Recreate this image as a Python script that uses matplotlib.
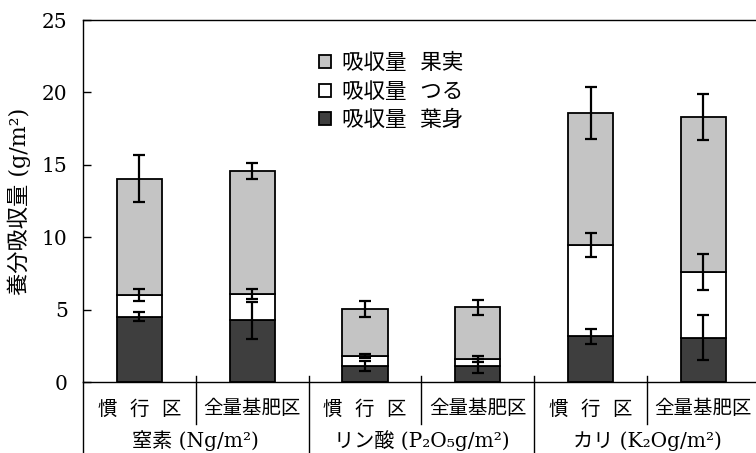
import numpy as np
import matplotlib
matplotlib.use('Agg')
import matplotlib.pyplot as plt
from matplotlib.transforms import blended_transform_factory

plt.rcParams['font.family'] = ['DejaVu Serif', 'Noto Sans CJK JP']

# 区ごとの吸収量 (g/m2)
plots = ['慣  行  区', '全量基肥区', '慣  行  区', '全量基肥区', '慣  行  区', '全量基肥区']
groups = ['窒素 (Ng/m²)', 'リン酸 (P₂O₅g/m²)', 'カリ (K₂Og/m²)']
leaf = [4.5, 4.25, 1.1, 1.1, 3.15, 3.05]
vine = [1.5, 1.85, 0.7, 0.5, 6.3, 4.55]
fruit = [8.05, 8.5, 3.25, 3.55, 9.15, 10.7]
leaf_err = [0.3, 1.3, 0.35, 0.5, 0.5, 1.55]
vine_err = [0.4, 0.35, 0.15, 0.2, 0.85, 1.25]
fruit_err = [1.6, 0.55, 0.55, 0.5, 1.8, 1.6]

x = np.arange(len(plots))
leaf = np.array(leaf)
vine = np.array(vine)
fruit = np.array(fruit)

fig = plt.figure(figsize=(7.56, 4.53), dpi=100)
ax = fig.add_axes([83/756, 1 - 382/453, 1 - 83/756, 362/453])

w = 0.4
kw = dict(width=w, edgecolor='black', linewidth=1.3, zorder=2)
b1 = ax.bar(x, leaf, color='#3e3e3e', **kw)
b2 = ax.bar(x, vine, bottom=leaf, color='white', **kw)
b3 = ax.bar(x, fruit, bottom=leaf + vine, color='#c4c4c4', **kw)

ekw = dict(fmt='none', ecolor='black', elinewidth=1.6, capsize=4, capthick=1.6, zorder=3)
ax.errorbar(x, leaf, yerr=leaf_err, **ekw)
ax.errorbar(x, leaf + vine, yerr=vine_err, **ekw)
ax.errorbar(x, leaf + vine + fruit, yerr=fruit_err, **ekw)

ax.set_xlim(-0.5, -0.5 + 673 / 112.8)
ax.set_ylim(0, 25)
ax.set_yticks(range(0, 26, 5))
ax.tick_params(axis='y', direction='in', length=6, width=1, labelsize=14.5, pad=11)
ax.set_xticks(x)
ax.set_xticklabels(plots, fontsize=14)
ax.tick_params(axis='x', length=0, pad=13)
ax.spines['right'].set_visible(False)
for s in ['left', 'top', 'bottom']:
    ax.spines[s].set_linewidth(1.0)

ax.set_ylabel('養分吸収量 (g/m²)', fontsize=16)
ax.yaxis.set_label_coords(-0.078, 0.5)

# 区と養分の区切り線
tr = blended_transform_factory(ax.transData, ax.transAxes)
for xs in [0.5, 2.5, 4.5]:
    ax.plot([xs, xs], [0.017, -0.116], transform=tr, color='black', lw=1.0, clip_on=False)
for xs in [1.5, 3.5]:
    ax.plot([xs, xs], [0.017, -0.2], transform=tr, color='black', lw=1.0, clip_on=False)
ax.plot([0, 0], [0, -0.2], transform=ax.transAxes, color='black', lw=1.0, clip_on=False)

for i, g in enumerate(groups):
    ax.text(2 * i + 0.5, -0.163, g, transform=tr, ha='center', va='center', fontsize=14.5)

ax.legend([b3, b2, b1], ['吸収量  果実', '吸収量  つる', '吸収量  葉身'],
          loc='upper left', bbox_to_anchor=(0.335, 0.94), frameon=False,
          fontsize=15.5, handlelength=0.55, handleheight=0.55, handletextpad=0.5,
          labelspacing=0.3, borderpad=0)

fig.savefig('out.png', dpi=100)
